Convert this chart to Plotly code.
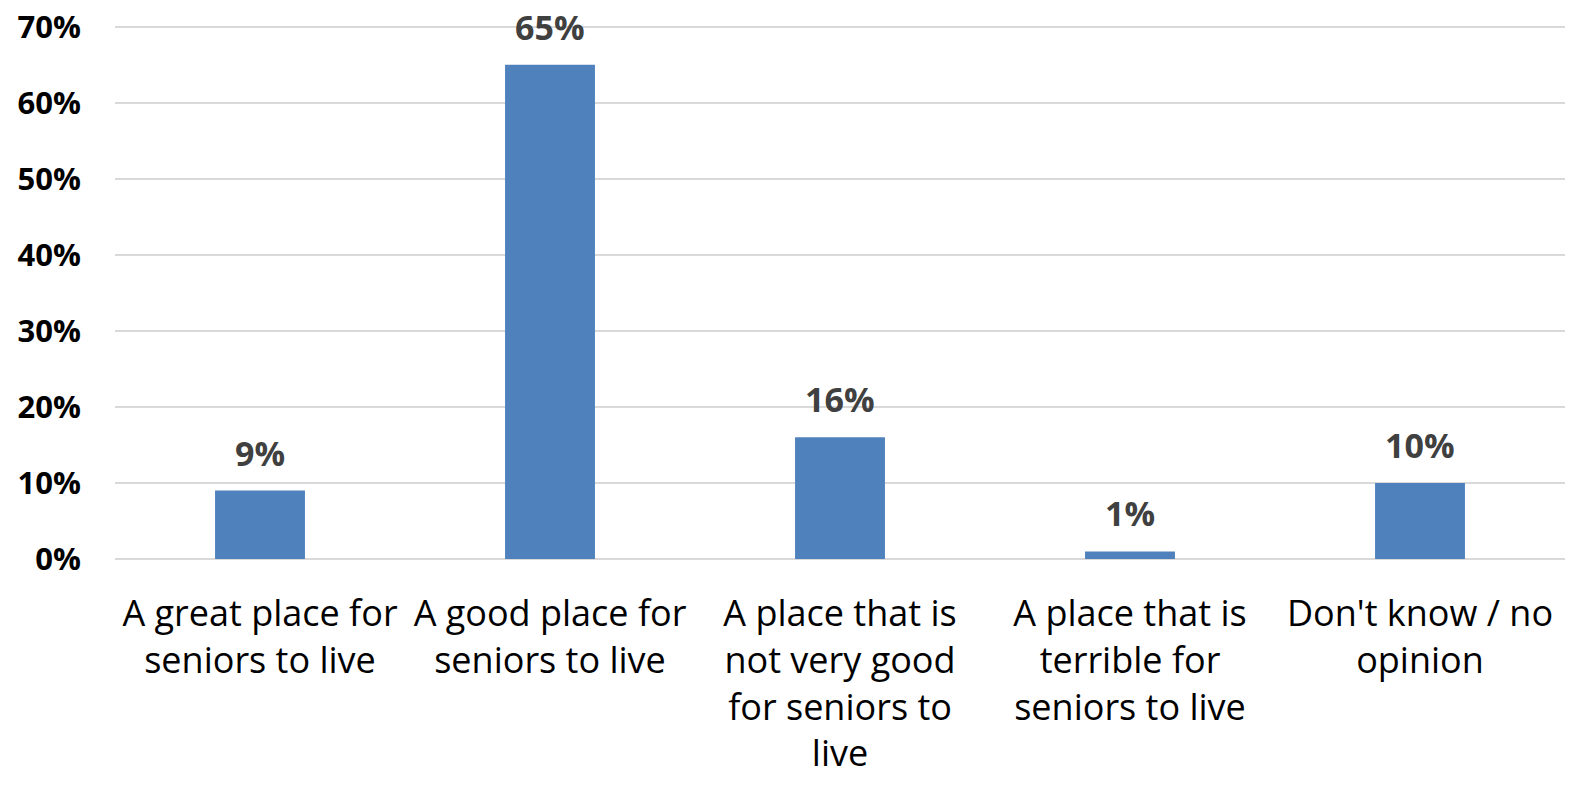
import plotly.graph_objects as go

categories = [
    "A great place for<br>seniors to live",
    "A good place for<br>seniors to live",
    "A place that is<br>not very good<br>for seniors to<br>live",
    "A place that is<br>terrible for<br>seniors to live",
    "Don't know / no<br>opinion",
]
values = [0.09, 0.65, 0.16, 0.01, 0.10]
value_labels = ["9%", "65%", "16%", "1%", "10%"]
y_ticks = [0, 0.1, 0.2, 0.3, 0.4, 0.5, 0.6, 0.7]
y_tick_labels = ["0%", "10%", "20%", "30%", "40%", "50%", "60%", "70%"]

FONT = "Open Sans"

fig = go.Figure()
fig.add_trace(go.Bar(
    x=categories,
    y=values,
    marker=dict(color="#4F81BD", line=dict(width=0)),
    width=0.31,
    hoverinfo="skip",
))

for c, v, t in zip(categories, values, value_labels):
    fig.add_annotation(
        x=c, y=v, text=f"<b>{t}</b>", showarrow=False,
        yanchor="bottom", yshift=13,
        font=dict(family=FONT, size=34, color="#404040"),
    )

fig.update_layout(
    width=1572, height=786,
    margin=dict(l=115, r=7, t=23, b=227),
    paper_bgcolor="white", plot_bgcolor="white",
    showlegend=False,
    font=dict(family=FONT, color="black"),
)
fig.update_xaxes(
    showgrid=False, showline=False, ticks="",
    tickfont=dict(family=FONT, size=36, color="black"),
    tickangle=0,
    ticklabelstandoff=30,
    automargin=False,
)
fig.update_yaxes(
    range=[0, 0.705],
    tickvals=y_ticks, ticktext=[f"<b>{t}</b>" for t in y_tick_labels],
    showgrid=True, gridcolor="#D9D9D9", gridwidth=2,
    zeroline=True, zerolinecolor="#D9D9D9", zerolinewidth=2,
    showline=False, ticks="",
    tickfont=dict(family=FONT, size=31, color="black"),
    ticklabelstandoff=33,
    ticklabeloverflow="allow",
    automargin=False,
)

fig.write_html(
    "out.html",
    config={"displayModeBar": False},
    post_script="document.body.style.margin='0px';document.body.style.overflow='hidden';",
)
